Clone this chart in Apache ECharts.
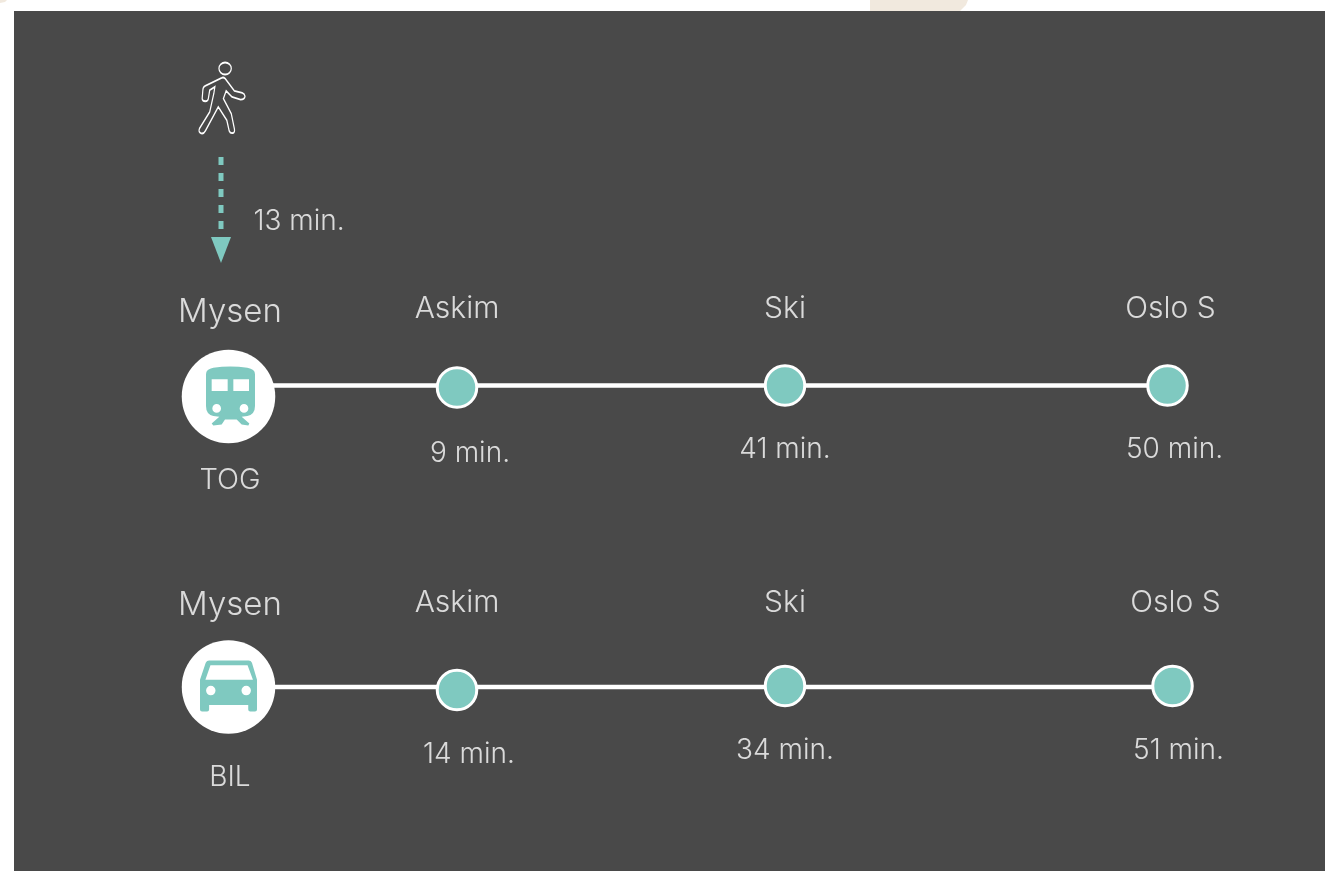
<!DOCTYPE html>
<html>
<head>
<meta charset="utf-8">
<title>Mysen reisetid</title>
<script src="https://cdn.jsdelivr.net/npm/echarts@6/dist/echarts.min.js"></script>
<style>
html, body { margin: 0; padding: 0; background: #fff; }
#main { width: 1325px; height: 871px; }
</style>
</head>
<body>
<div id="main"></div>
<script>
// data
var stations = ['Askim', 'Ski', 'Oslo S'];
var trainMinutes = [9, 41, 50];
var carMinutes = [14, 34, 51];
var walkMinutes = 13;
// schematic distance along each line, measured from Mysen
var trainTrack = [229, 557, 939.5];
var carTrack = [229, 557, 944.5];
// level of each row, measured from the train line
var trainLevel = 0;
var carLevel = 301.5;
var walkFrom = -228.5;
var walkTo = -153.5;
var walkAt = -7;

// layout of the texts and small shifts of the markers
var trainNameOffset = [[0, -77], [0, -77], [3, -77]];
var trainTimeOffset = [[13, 68], [0, 64], [7, 64]];
var carNameOffset = [[0, -84], [0, -84], [3, -84]];
var carTimeOffset = [[12, 68], [0, 64], [6, 64]];
var trainNudge = [[0, 2], [0, 0], [0, 0]];
var carNudge = [[0, 3], [0, -1], [0, -1]];

var TEAL = '#7fc9c0';
var FONT = 'Inter';

var trainIcon = 'path://M138 105Q138 90 160 86Q211 78 262 86Q285 90 285 105L285 200Q285 225 262 230L245 232L268 252L265 258L245 255L230 240L195 240L185 255L160 258L155 252L178 232L160 230Q138 225 138 200Z' +
    'M155 120L155 155L203 155L203 120Z M220 120L220 155L267 155L267 120Z' +
    'M157 207A13 13 0 0 0 183 207A13 13 0 0 0 157 207Z M239 207A13 13 0 0 0 265 207A13 13 0 0 0 239 207Z';
var carIcon = 'path://M148 93L265 93Q272 93 275 100L290 150L290 238Q290 244 284 244L270 244Q264 244 264 238L264 225L148 225L148 238Q148 244 142 244L127 244Q121 244 121 238L121 150L138 100Q141 93 148 93Z' +
    'M152 107L137 150L278 150L262 107Z' +
    'M139 182A14 14 0 0 0 167 182A14 14 0 0 0 139 182Z M244 182A14 14 0 0 0 272 182A14 14 0 0 0 244 182Z';
var walkerIcon = 'path://M177 85A18 18 0 1 0 213 85A18 18 0 1 0 177 85Z' +
    'M185 113L137 137Q130 140 130 150L128 175Q128 183 137 183Q145 183 146 175L150 150L165 140L162 160L150 215L120 265Q116 275 125 279Q133 281 137 272L175 200L200 240L207 272Q210 280 218 278Q224 276 222 265L213 220L190 175L198 152L215 170L240 178Q252 178 253 168Q252 160 245 158L222 152L195 115Q190 110 185 113Z';

function trackLine(track, level) {
    var pts = [[0, level]];
    track.forEach(function (d) { pts.push([d, level]); });
    return {
        type: 'line', data: pts, symbol: 'none', silent: true, z: 2,
        lineStyle: { color: '#fff', width: 4.5 }
    };
}

function stops(track, level, nudge) {
    return {
        type: 'scatter', silent: true, z: 3, symbolSize: 39.5,
        itemStyle: { color: TEAL, borderColor: '#fff', borderWidth: 3, opacity: 1 },
        data: track.map(function (d, i) {
            return { value: [d, level], symbolOffset: nudge[i] };
        })
    };
}

// invisible points that only carry a text
function texts(items, size) {
    return {
        type: 'scatter', silent: true, z: 5, symbolSize: 1,
        itemStyle: { color: 'transparent' },
        label: {
            show: true, position: 'inside', color: '#fff', fontFamily: FONT,
            fontWeight: 300, fontSize: size,
            formatter: function (p) { return p.data.text; }
        },
        data: items.map(function (it) {
            return { value: it.at, text: it.text, label: { offset: it.offset, fontSize: it.size || size } };
        })
    };
}

function rowTexts(names, nameOffset, minutes, timeOffset, track, level) {
    var items = [];
    track.forEach(function (d, i) {
        items.push({ at: [d, level], text: names[i], offset: nameOffset[i], size: 30 });
        items.push({ at: [d, level], text: minutes[i] + ' min.', offset: timeOffset[i], size: 28 });
    });
    return texts(items, 28);
}

function badge(level, dy, icon, size, shift) {
    return [{
        type: 'scatter', silent: true, z: 3, symbolSize: 93.5,
        itemStyle: { color: '#fff', opacity: 1 },
        data: [{ value: [0, level], symbolOffset: [0.5, dy] }]
    }, {
        type: 'scatter', silent: true, z: 4, symbol: icon, symbolSize: size,
        symbolKeepAspect: false,
        itemStyle: { color: TEAL, opacity: 1 },
        data: [{ value: [0, level], symbolOffset: shift }]
    }];
}

var series = [trackLine(trainTrack, trainLevel), trackLine(carTrack, carLevel)];
series.push(stops(trainTrack, trainLevel, trainNudge), stops(carTrack, carLevel, carNudge));
series = series.concat(badge(trainLevel, 11, trainIcon, [49, 59], [2.5, 10.5]));
series = series.concat(badge(carLevel, 0, carIcon, [57, 51], [0.5, -1]));
series.push(rowTexts(stations, trainNameOffset, trainMinutes, trainTimeOffset, trainTrack, trainLevel));
series.push(rowTexts(stations, carNameOffset, carMinutes, carTimeOffset, carTrack, carLevel));
series.push(texts([
    { at: [0, trainLevel], text: 'Mysen', offset: [2, -73], size: 33 },
    { at: [0, trainLevel], text: 'TOG', offset: [2, 95], size: 29 },
    { at: [0, carLevel], text: 'Mysen', offset: [2, -82], size: 33 },
    { at: [0, carLevel], text: 'BIL', offset: [2, 91], size: 28 }
], 29));
series.push(texts([
    { at: [walkAt, (walkFrom + walkTo) / 2], text: walkMinutes + ' min.', offset: [78, 27] }
], 28));

// walking leg: dashed line, arrow head and walker
series.push({
    type: 'line', silent: true, z: 3, symbol: 'none',
    data: [[walkAt, walkFrom], [walkAt, walkTo]],
    lineStyle: { color: TEAL, width: 5, type: [8, 8] }
});
series.push({
    type: 'scatter', silent: true, z: 3, symbol: 'triangle', symbolRotate: 180,
    symbolSize: [20, 26], itemStyle: { color: TEAL, opacity: 1 },
    data: [{ value: [walkAt, walkTo], symbolOffset: [0, 18] }]
});
series.push({
    type: 'scatter', silent: true, z: 3, symbol: walkerIcon, symbolSize: [46, 71],
    itemStyle: { color: 'none', borderColor: '#fff', borderWidth: 1.5, opacity: 1 },
    data: [{ value: [walkAt, walkFrom], symbolOffset: [1, -59] }]
});

var option = {
    animation: false,
    backgroundColor: '#fff',
    grid: { left: 0, right: 0, top: 0, bottom: 0 },
    xAxis: { type: 'value', min: -228, max: 1097, show: false },
    yAxis: { type: 'value', min: -385.5, max: 485.5, inverse: true, show: false },
    graphic: [
        { type: 'rect', shape: { x: 14, y: 11, width: 1311, height: 860 }, style: { fill: '#494949' }, z: 1 },
        { type: 'polygon', shape: { points: [[870, 0], [968, 0], [966, 5], [960, 11], [870, 11]] }, style: { fill: '#f1e9de' }, z: 1 },
        { type: 'polygon', shape: { points: [[0, 0], [7, 0], [5, 2], [0, 3]] }, style: { fill: '#f1e9de' }, z: 1 }
    ],
    series: series
};

var myChart = echarts.init(document.getElementById('main'));
myChart.setOption(option);
</script>
</body>
</html>
